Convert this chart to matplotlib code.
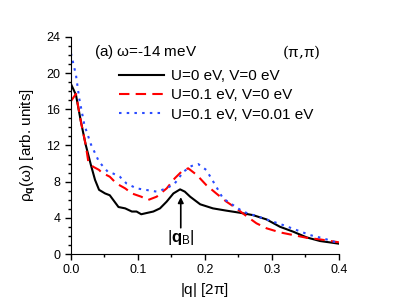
import matplotlib
matplotlib.use("Agg")
import matplotlib.pyplot as plt
from matplotlib.ticker import MultipleLocator, FormatStrFormatter

plt.rcParams["font.family"] = ["Liberation Sans", "DejaVu Sans"]
plt.rcParams["mathtext.fontset"] = "custom"
plt.rcParams["mathtext.rm"] = "Liberation Sans"
plt.rcParams["mathtext.it"] = "Liberation Sans"
plt.rcParams["mathtext.bf"] = "Liberation Sans:bold"

# U=0, V=0
q_black = [0.0, 0.0075, 0.015, 0.022, 0.030, 0.036, 0.042, 0.051, 0.058, 0.063,
           0.071, 0.081, 0.091, 0.098, 0.105, 0.115, 0.123, 0.133, 0.143, 0.153,
           0.163, 0.170, 0.178, 0.193, 0.212, 0.232, 0.252, 0.272, 0.292, 0.312,
           0.332, 0.352, 0.372, 0.4]
v_black = [18.8, 17.6, 14.6, 12.1, 9.8, 8.2, 7.1, 6.7, 6.5, 6.0,
           5.2, 5.05, 4.7, 4.7, 4.4, 4.57, 4.7, 5.05, 5.8, 6.7,
           7.15, 6.9, 6.34, 5.5, 5.05, 4.8, 4.57, 4.3, 3.83, 3.02,
           2.47, 1.84, 1.44, 1.15]

# U=0.1, V=0
q_red = [0.0, 0.0075, 0.015, 0.022, 0.026, 0.033, 0.042, 0.046, 0.058, 0.068,
         0.081, 0.091, 0.105, 0.115, 0.128, 0.143, 0.155, 0.165, 0.175, 0.188,
         0.202, 0.217, 0.232, 0.247, 0.262, 0.277, 0.292, 0.312, 0.332, 0.352,
         0.372, 0.4]
v_red = [16.9, 17.7, 14.6, 12.1, 10.2, 9.66, 9.3, 9.0, 8.55, 7.8,
         7.26, 6.7, 6.34, 5.97, 6.34, 7.26, 8.37, 9.1, 9.48, 8.74,
         7.63, 6.7, 5.8, 5.05, 4.2, 3.4, 2.85, 2.4, 2.1, 1.8,
         1.62, 1.3]

# U=0.1, V=0.01
q_blue = [0.0, 0.0075, 0.0124, 0.020, 0.030, 0.042, 0.055, 0.063, 0.073, 0.083,
          0.098, 0.113, 0.128, 0.143, 0.155, 0.168, 0.180, 0.190, 0.202, 0.217,
          0.227, 0.242, 0.257, 0.277, 0.297, 0.317, 0.337, 0.357, 0.377, 0.4]
v_blue = [22.2, 19.8, 17.2, 14.3, 12.1, 10.2, 9.1, 8.9, 8.55, 7.8,
          7.26, 7.08, 6.9, 7.26, 7.8, 9.1, 9.73, 9.95, 9.3, 7.45,
          6.15, 5.42, 4.68, 4.2, 3.7, 3.2, 2.65, 2.1, 1.73, 1.2]

labels = ["U=0 eV, V=0 eV", "U=0.1 eV, V=0 eV", "U=0.1 eV, V=0.01 eV"]

fig = plt.figure(figsize=(3.94, 3.05), dpi=100)
ax = fig.add_axes([0.180, 0.167, 0.680, 0.712])

ax.plot(q_black, v_black, color="black", lw=1.5, label=labels[0])
ax.plot(q_red, v_red, color="#ff0000", lw=1.5, dashes=(5, 3), label=labels[1])
ax.plot(q_blue, v_blue, color="#2a4bff", lw=1.5, dashes=(1.2, 2.5), label=labels[2])

ax.set_xlim(0, 0.4)
ax.set_ylim(0, 24)
ax.xaxis.set_major_locator(MultipleLocator(0.1))
ax.xaxis.set_minor_locator(MultipleLocator(0.05))
ax.xaxis.set_major_formatter(FormatStrFormatter("%.1f"))
ax.yaxis.set_major_locator(MultipleLocator(4))
ax.yaxis.set_minor_locator(MultipleLocator(1))
ax.spines["top"].set_visible(False)
ax.spines["right"].set_visible(False)
ax.tick_params(which="major", direction="out", length=4, width=1, labelsize=9)
ax.tick_params(which="minor", direction="out", length=2.5, width=1)

ax.set_xlabel(r"|q| [2$\pi$]", fontsize=11, labelpad=3)
ax.set_ylabel(r"$\rho_{\mathbf{q}}(\omega)$ [arb. units]", fontsize=11, labelpad=6)

ax.text(0.034, 22.3, r"(a) $\omega$=-14 meV", fontsize=11, va="center")
ax.text(0.315, 22.3, r"($\pi$,$\pi$)", fontsize=11, va="center",
        family=["DejaVu Serif"])

ax.annotate("", xy=(0.164, 6.6), xytext=(0.164, 2.6),
            arrowprops=dict(arrowstyle="-|>", color="black", lw=1.2,
                            mutation_scale=8))
ax.text(0.164, 1.8, r"|$\mathbf{q}_{\mathrm{B}}$|", fontsize=12,
        ha="center", va="center")

ax.legend(loc="upper left", bbox_to_anchor=(0.155, 0.88), frameon=False,
          fontsize=11, handlelength=3.0, handletextpad=0.45,
          labelspacing=0.35, borderaxespad=0)

fig.savefig("out.png", dpi=100)
